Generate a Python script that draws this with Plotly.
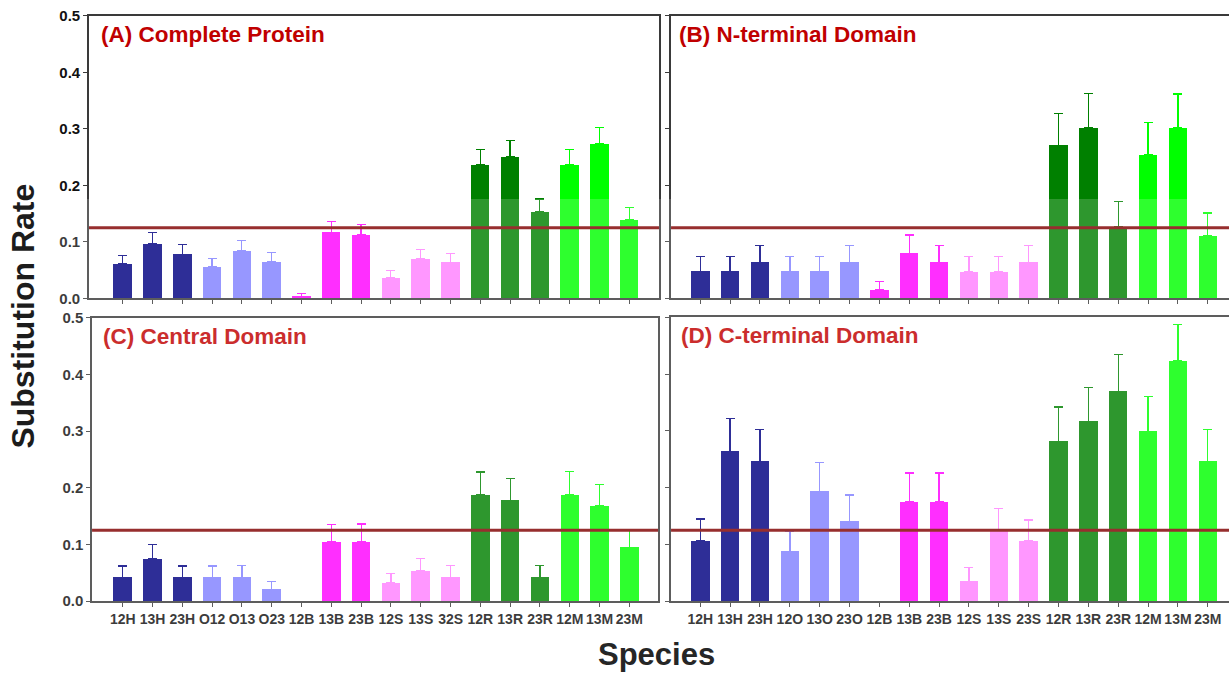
import plotly.graph_objects as go

# ---------------- data ----------------
labels_C = ["12H", "13H", "23H", "O12", "O13", "O23", "12B", "13B", "23B",
            "12S", "13S", "32S", "12R", "13R", "23R", "12M", "13M", "23M"]
labels_D = ["12H", "13H", "23H", "12O", "13O", "23O", "12B", "13B", "23B",
            "12S", "13S", "23S", "12R", "13R", "23R", "12M", "13M", "23M"]

vals_A = [0.061, 0.097, 0.078, 0.056, 0.084, 0.065, 0.004, 0.117, 0.112,
          0.037, 0.070, 0.064, 0.237, 0.251, 0.154, 0.237, 0.274, 0.139]
err_A = [0.015, 0.020, 0.018, 0.015, 0.018, 0.016, 0.005, 0.019, 0.019,
         0.013, 0.016, 0.016, 0.027, 0.028, 0.022, 0.027, 0.028, 0.022]

vals_B = [0.048, 0.048, 0.064, 0.048, 0.048, 0.064, 0.016, 0.080, 0.064,
          0.047, 0.047, 0.064, 0.271, 0.302, 0.127, 0.254, 0.302, 0.111]
err_B = [0.026, 0.026, 0.030, 0.026, 0.026, 0.030, 0.014, 0.032, 0.030,
         0.027, 0.027, 0.030, 0.056, 0.061, 0.045, 0.057, 0.060, 0.040]

vals_C = [0.042, 0.074, 0.042, 0.042, 0.042, 0.021, None, 0.105, 0.105,
          0.032, 0.053, 0.042, 0.188, 0.178, 0.042, 0.188, 0.168, 0.095]
err_C = [0.020, 0.026, 0.020, 0.020, 0.021, 0.014, None, 0.030, 0.031,
         0.017, 0.022, 0.021, 0.040, 0.039, 0.021, 0.041, 0.038, 0.029]

vals_D = [0.106, 0.264, 0.246, 0.088, 0.193, 0.141, None, 0.175, 0.175,
          0.035, 0.124, 0.106, 0.281, 0.317, 0.369, 0.299, 0.423, 0.246]
err_D = [0.039, 0.058, 0.057, 0.036, 0.051, 0.046, None, 0.051, 0.051,
         0.024, 0.040, 0.037, 0.061, 0.060, 0.065, 0.061, 0.064, 0.057]

titles = ["(A) Complete Protein", "(B) N-terminal Domain",
          "(C) Central Domain", "(D) C-terminal Domain"]
threshold = 0.125

group_colors = ["#000080", "#8080FF", "#FF00FF", "#FF80FF", "#008000", "#00FF00"]
group_size = 3

# ---------------- figure ----------------
fig = go.Figure()

panels = [
    dict(vals=vals_A, err=err_A, xa="x", ya="y", xdom=[0.0724, 0.5362], ydom=[0.5588, 0.9895],
         xr=[-1.13, 18.0], ylab=True, xlab=None, tx=0.0175, tcol="#C00000"),
    dict(vals=vals_B, err=err_B, xa="x2", ya="y2", xdom=[0.5460, 1.0], ydom=[0.5588, 0.9895],
         xr=[-0.98, 17.71], ylab=False, xlab=None, tx=0.0107, tcol="#C00000"),
    dict(vals=vals_C, err=err_C, xa="x3", ya="y3", xdom=[0.0749, 0.5354], ydom=[0.0975, 0.5291],
         xr=[-1.03, 17.96], ylab=True, xlab=labels_C, tx=0.0165, tcol="rgb(203,45,45)"),
    dict(vals=vals_D, err=err_D, xa="x4", ya="y4", xdom=[0.5460, 1.0], ydom=[0.0971, 0.5300],
         xr=[-0.98, 17.71], ylab=False, xlab=labels_D, tx=0.0138, tcol="rgb(203,45,45)"),
]

FONT = "Liberation Sans, Arial, sans-serif"
AXC = "#3a3a3a"

for p in panels:
    for g, col in enumerate(group_colors):
        idx = list(range(g * group_size, (g + 1) * group_size))
        fig.add_trace(go.Bar(
            x=idx,
            y=[p["vals"][i] for i in idx],
            width=0.62,
            marker=dict(color=col, line=dict(width=0)),
            error_y=dict(type="data", symmetric=False,
                         array=[p["err"][i] for i in idx],
                         arrayminus=[0 if p["err"][i] is not None else None for i in idx],
                         color=col, thickness=1.3, width=4.5),
            xaxis=p["xa"], yaxis=p["ya"], showlegend=False, hoverinfo="skip",
        ))

layout = dict(
    width=1229, height=673,
    margin=dict(l=0, r=0, t=0, b=0),
    paper_bgcolor="white", plot_bgcolor="white",
    showlegend=False, bargap=0,
    font=dict(family=FONT, color="#111111"),
)

for k, p in enumerate(panels):
    xkey = "xaxis" if k == 0 else f"xaxis{k+1}"
    ykey = "yaxis" if k == 0 else f"yaxis{k+1}"
    layout[xkey] = dict(
        domain=p["xdom"], anchor=p["ya"], range=p["xr"],
        tickmode="array", tickvals=list(range(18)),
        ticktext=p["xlab"] if p["xlab"] else [""] * 18,
        showticklabels=p["xlab"] is not None, tickangle=0,
        ticks="outside", ticklen=4, tickwidth=1.2, tickcolor=AXC,
        showline=True, linecolor=AXC, linewidth=1.5, mirror=True,
        showgrid=False, zeroline=False,
        tickfont=dict(family=FONT, size=14, color="#111111", weight="bold"),
    )
    layout[ykey] = dict(
        domain=p["ydom"], anchor=p["xa"], range=[0, 0.5],
        tickmode="array", tickvals=[0, 0.1, 0.2, 0.3, 0.4, 0.5],
        ticktext=["0.0", "0.1", "0.2", "0.3", "0.4", "0.5"],
        showticklabels=p["ylab"],
        ticks="outside", ticklen=4, tickwidth=1.2, tickcolor=AXC,
        showline=True, linecolor=AXC, linewidth=1.5, mirror=p["ylab"],
        showgrid=False, zeroline=False,
        tickfont=dict(family=FONT, size=15, color="#111111", weight="bold"),
    )

fig.update_layout(**layout)

shapes = []
annotations = []
for k, p in enumerate(panels):
    xd = p["xa"] + " domain"
    shapes.append(dict(type="line", xref=xd, yref=p["ya"], x0=0, x1=1,
                       y0=threshold, y1=threshold,
                       line=dict(color="#800000", width=3), layer="above"))
    annotations.append(dict(text=titles[k], xref=xd, yref=p["ya"] + " domain",
                            x=p["tx"], y=0.935, xanchor="left", yanchor="middle",
                            showarrow=False,
                            font=dict(family=FONT, size=22.5, color=p["tcol"], weight="bold")))

# faint white veil present over the lower part of the reference image
shapes.append(dict(type="rect", xref="paper", yref="paper", x0=0, x1=1,
                   y0=0, y1=0.7103, fillcolor="white", opacity=0.18,
                   line=dict(width=0), layer="above"))

annotations.append(dict(text="Substitution Rate", xref="paper", yref="paper",
                        x=23 / 1229, y=0.5311, textangle=-90,
                        xanchor="center", yanchor="middle", showarrow=False,
                        font=dict(family=FONT, size=32, color="#1c1c1c", weight="bold")))
annotations.append(dict(text="Species", xref="paper", yref="paper",
                        x=656 / 1229, y=0.0160,
                        xanchor="center", yanchor="middle", showarrow=False,
                        font=dict(family=FONT, size=31, color="#262626", weight="bold")))

fig.update_layout(shapes=shapes, annotations=annotations)

fig.write_html("out.html", config={"displayModeBar": False},
               post_script="document.body.style.margin='0px';document.body.style.overflow='hidden';")
